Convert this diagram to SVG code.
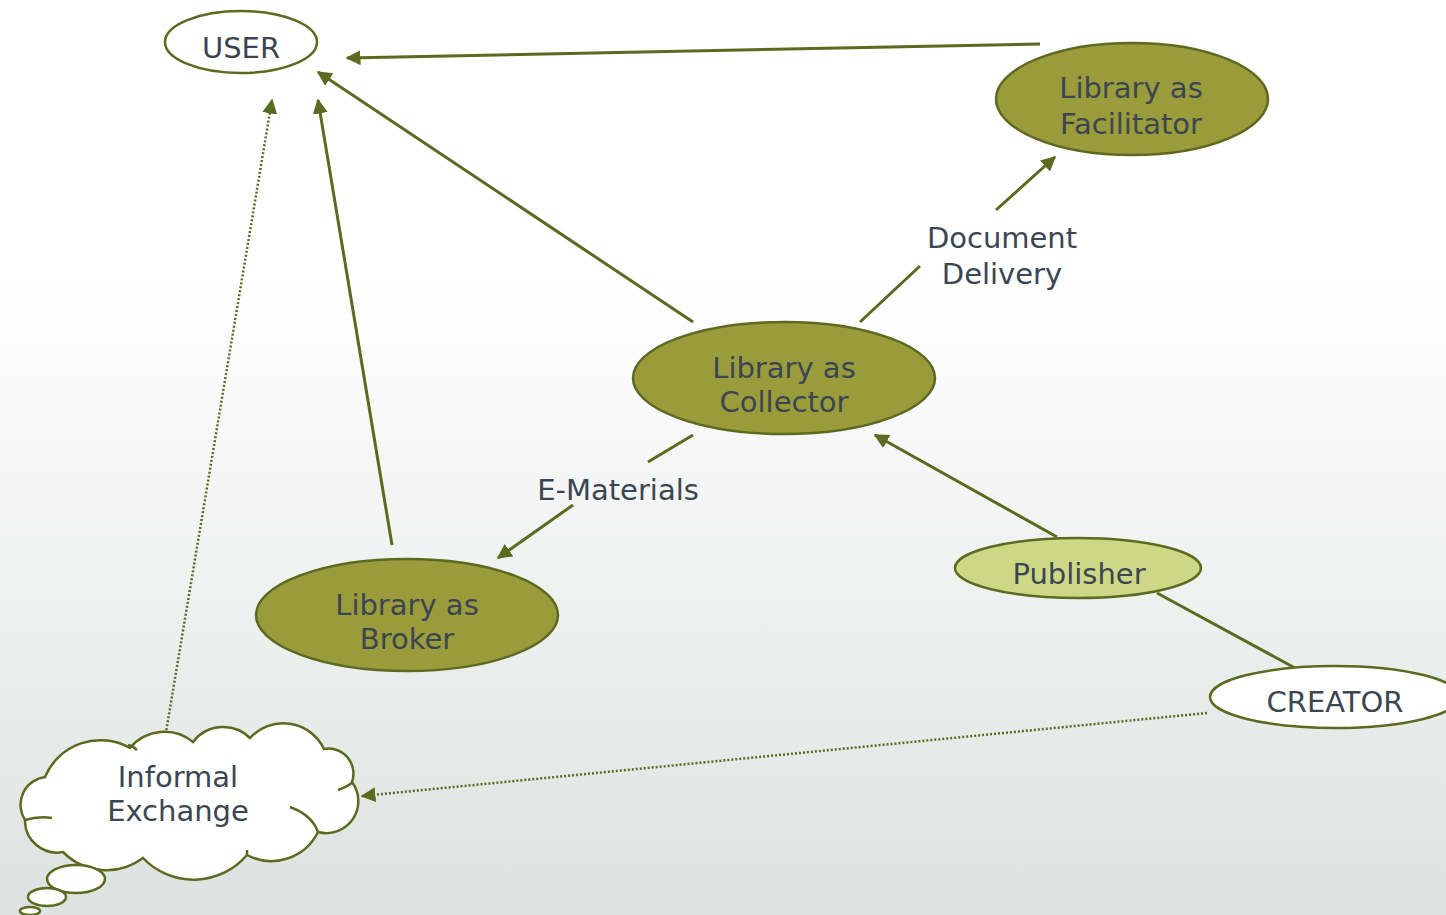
<svg xmlns="http://www.w3.org/2000/svg" width="1446" height="915" viewBox="0 0 1446 915">
  <style>
    .lbl { font-family: "DejaVu Sans", Verdana, sans-serif; font-size: 29px; fill: #3a4652; text-anchor: middle; }
    .olive { fill: #9a9b3b; stroke: #5b6a1f; stroke-width: 2.5; }
    .light { fill: #cdd886; stroke: #5b6a1f; stroke-width: 2.5; }
    .plain { fill: #ffffff; stroke: #5b6a1f; stroke-width: 2.5; }
    .edge { stroke: #5b6a1f; stroke-width: 3; fill: none; }
    .dot { stroke: #5b6a1f; stroke-width: 2.5; fill: none; stroke-dasharray: 2 2; }
  </style>
  <defs>
    <linearGradient id="bg" x1="0" y1="0" x2="0" y2="1">
      <stop offset="0" stop-color="#ffffff"/>
      <stop offset="0.3" stop-color="#ffffff"/>
      <stop offset="1" stop-color="#dfe1e1"/>
    </linearGradient>
    <marker id="arrow" viewBox="0 0 10 10" refX="9" refY="5" markerWidth="5" markerHeight="5" markerUnits="strokeWidth" orient="auto">
      <path d="M0,0 L10,5 L0,10 z" fill="#5b6a1f"/>
    </marker>
    <marker id="arrowDot" viewBox="0 0 10 10" refX="9" refY="5" markerWidth="6" markerHeight="6" markerUnits="strokeWidth" orient="auto">
      <path d="M0,0 L10,5 L0,10 z" fill="#5b6a1f"/>
    </marker>
  </defs>

  <rect x="0" y="0" width="1446" height="915" fill="url(#bg)"/>

  <!-- connectors -->
  <g id="connectors">
    <line class="edge" x1="1040" y1="44" x2="347" y2="58" marker-end="url(#arrow)"/>
    <line class="edge" x1="693" y1="322" x2="318" y2="72" marker-end="url(#arrow)"/>
    <line class="edge" x1="392" y1="545" x2="318" y2="100" marker-end="url(#arrow)"/>
    <line class="dot" x1="165" y1="738" x2="272" y2="100" marker-end="url(#arrowDot)"/>
    <line class="edge" x1="860" y1="322" x2="920" y2="266"/>
    <line class="edge" x1="996" y1="210" x2="1055" y2="157" marker-end="url(#arrow)"/>
    <line class="edge" x1="693" y1="435" x2="648" y2="462"/>
    <line class="edge" x1="573" y1="505" x2="498" y2="558" marker-end="url(#arrow)"/>
    <line class="edge" x1="1057" y1="537" x2="875" y2="435" marker-end="url(#arrow)"/>
    <line class="edge" x1="1295" y1="668" x2="1157" y2="593"/>
    <line class="dot" x1="1207" y1="713" x2="362" y2="796" marker-end="url(#arrowDot)"/>
  </g>

  <!-- edge labels -->
  <g id="label-document-delivery">
    <text class="lbl" x="1002" y="248">Document</text>
    <text class="lbl" x="1002" y="284">Delivery</text>
  </g>
  <g id="label-e-materials">
    <text class="lbl" x="618" y="500">E-Materials</text>
  </g>

  <g id="user">
    <ellipse class="plain" cx="241" cy="42" rx="76" ry="31"/>
    <text class="lbl" x="241" y="58" font-size="28">USER</text>
  </g>

  <g id="facilitator">
    <ellipse class="olive" cx="1132" cy="99" rx="136" ry="56"/>
    <text class="lbl" x="1131" y="98">Library as</text>
    <text class="lbl" x="1131" y="134">Facilitator</text>
  </g>

  <g id="collector">
    <ellipse class="olive" cx="784" cy="378" rx="151" ry="56"/>
    <text class="lbl" x="784" y="378">Library as</text>
    <text class="lbl" x="784" y="412">Collector</text>
  </g>

  <g id="broker">
    <ellipse class="olive" cx="407" cy="615" rx="151" ry="56"/>
    <text class="lbl" x="407" y="615">Library as</text>
    <text class="lbl" x="407" y="649">Broker</text>
  </g>

  <g id="publisher">
    <ellipse class="light" cx="1078" cy="568" rx="123" ry="30"/>
    <text class="lbl" x="1079" y="584">Publisher</text>
  </g>

  <g id="creator">
    <ellipse class="plain" cx="1335" cy="697" rx="125" ry="31"/>
    <text class="lbl" x="1335" y="712">CREATOR</text>
  </g>

  <g id="informal-exchange">
    <path class="plain" d="M45,777 A60 60 0 0 1 130,748 A45 45 0 0 1 193,742 A38 38 0 0 1 250,738 A45 45 0 0 1 324,749 A25 25 0 0 1 352,782 A32 32 0 0 1 318,832 A52 52 0 0 1 247,855 A70 70 0 0 1 143,858 A61 61 0 0 1 63,852 A32 32 0 0 1 25,820 A28 28 0 0 1 45,777 Z"/>
    <path class="edge" style="stroke-width:2.5" d="M128,745 Q133,746 137,750 M25,820 Q38,816 52,818 M338,790 Q347,787 353,782 M290,807 Q312,815 318,832 M247,855 L247,850"/>
    <ellipse class="plain" cx="76" cy="879" rx="29" ry="14"/>
    <ellipse class="plain" cx="47" cy="897" rx="19" ry="9"/>
    <ellipse class="plain" cx="30" cy="911" rx="10" ry="4"/>
    <text class="lbl" x="178" y="787">Informal</text>
    <text class="lbl" x="178" y="821">Exchange</text>
  </g>
</svg>
